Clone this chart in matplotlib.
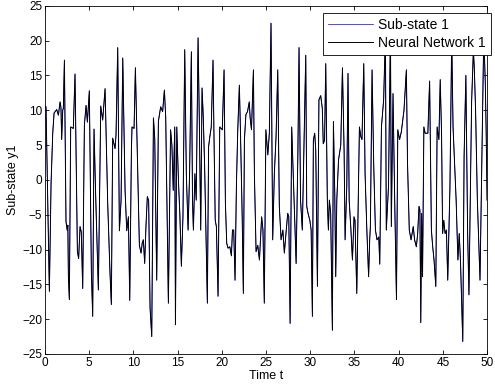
import matplotlib
matplotlib.use("Agg")
import matplotlib.pyplot as plt
import numpy as np

# turning points (time, sub-state y1)
time_t = [
    0.0, 0.11, 0.49, 0.68, 0.87, 1.02, 1.32, 1.51, 1.70, 1.80, 1.88, 2.0, 2.07, 2.19,
    2.37, 2.50, 2.58, 2.64, 2.75, 2.90, 3.20, 3.39, 3.66, 3.80, 3.96, 4.10, 4.26,
    4.45, 4.64, 4.79, 5.01, 5.24, 5.39, 5.54, 5.73, 6.03, 6.30, 6.52, 6.79, 7.09,
    7.35, 7.50, 7.65, 7.92, 8.03, 8.22, 8.41, 8.60, 8.79, 9.05, 9.24, 9.43, 9.58,
    9.77, 9.84, 10.07, 10.22, 10.44, 10.67, 10.86, 11.0, 11.12, 11.27, 11.42, 11.57,
    11.72, 11.88, 12.07, 12.26, 12.41, 12.63, 12.82, 13.08, 13.3, 13.5, 13.65, 13.8,
    13.95, 14.2, 14.35, 14.5, 14.67, 14.75, 14.9, 15.1, 15.25, 15.42, 15.6, 15.8,
    15.98, 16.18, 16.35, 16.55, 16.68, 16.78, 16.95, 17.1, 17.31, 17.45, 17.61,
    17.76, 17.9, 18.05, 18.36, 18.5, 18.64, 18.8, 19.0, 19.1, 19.25, 19.38, 19.57,
    19.76, 20.05, 20.25, 20.4, 20.55, 20.7, 20.9, 21.08, 21.2, 21.34, 21.49, 21.65,
    21.8, 21.98, 22.1, 22.3, 22.43, 22.55, 22.72, 22.9, 23.1, 23.2, 23.35, 23.57,
    23.68, 23.87, 24.06, 24.25, 24.5, 24.65, 24.8, 24.98, 25.2, 25.37, 25.56, 25.75,
    25.94, 26.13, 26.32, 26.5, 26.7, 26.9, 27.07, 27.25, 27.45, 27.57, 27.72, 27.9,
    28.1, 28.28, 28.4, 28.6, 28.73, 28.9, 29.1, 29.3, 29.49, 29.6, 29.75, 29.95,
    30.1, 30.24, 30.35, 30.5, 30.62, 30.81, 30.98, 31.18, 31.36, 31.47, 31.62,
    31.75, 31.93, 32.05, 32.16, 32.31, 32.5, 32.62, 32.77, 32.88, 33.0, 33.2, 33.45,
    33.64, 33.83, 33.94, 34.13, 34.27, 34.4, 34.6, 34.77, 34.95, 35.06, 35.26, 35.4,
    35.56, 35.72, 35.85, 36.05, 36.2, 36.4, 36.6, 36.72, 36.8, 36.99, 37.18, 37.37,
    37.55, 37.75, 37.86, 38.05, 38.3, 38.5, 38.6, 38.85, 39.07, 39.17, 39.36, 39.55,
    39.75, 39.9, 40.1, 40.3, 40.6, 40.87, 41.0, 41.2, 41.4, 41.65, 41.8, 42.0, 42.15,
    42.3, 42.4, 42.5, 42.6, 42.7, 42.85, 43.0, 43.3, 43.5, 43.7, 43.85, 44.0, 44.2,
    44.35, 44.55, 44.7, 44.85, 44.97, 45.1, 45.25, 45.4, 45.55, 45.8, 46.0, 46.15,
    46.3, 46.5, 46.7, 46.85, 47.0, 47.25, 47.4, 47.6, 47.8, 47.95, 48.1, 48.25,
    48.45, 48.55, 48.7, 48.9, 49.2, 49.35, 49.6, 49.7, 49.8, 49.9, 50.0,
]
sub_state_y1 = [
    10.5, 10.5, -16.0, -0.5, 6.7, 9.6, 10.1, 9.3, 11.2, 10.4, 5.8, 10.0, 10.3, 17.2,
    -6.0, -7.2, -6.5, -13.9, -17.2, 7.6, 7.4, 15.2, -10.3, -11.3, -6.7, -7.5, -15.6,
    7.9, 10.7, 8.3, 12.8, -13.2, -19.6, 7.3, -2.4, -15.8, 10.6, 8.6, 13.1, -3.5,
    -13.4, -17.9, 6.0, 4.5, 6.5, 19.0, -7.3, -2.9, 17.5, -1.4, -7.3, -5.3, -17.3,
    4.5, 7.6, 7.4, 16.1, 3.3, -9.4, -10.5, -9.0, -8.6, -12.0, -6.5, -2.4,
    -3.0, -18.4, -22.5, 8.9, 5.9, -14.4, 8.4, 10.5, 9.8, 12.9, 9.0, -4.8,
    -17.7, 7.2, 5.0, -1.5, 7.6, -20.8, 7.6, -0.5, -5.0, -12.4, -5.3, 18.7,
    0.9, -7.2, 0.9, 18.4, -3.0, -7.2, 0.9, -2.9, 20.4, 8.6, -7.2,
    13.2, 8.9, 2.0, -17.7, 4.8, 6.2, 7.6, 17.2, 7.1, -5.8, -6.7, -16.7,
    7.6, 7.2, 15.8, -3.3, -9.1, -9.8, -9.6, -10.9, -7.2, -7.2, -14.4, -0.5,
    7.2, 13.6, 7.2, -5.3, -16.3, 5.7, 9.4, 9.8, 11.2, 8.9, 7.2, 15.8,
    0.9, -10.3, -9.4, -11.5, -5.3, -7.2, -17.7, 7.2, 3.6, 6.7, 22.5, -8.6,
    1.0, 6.2, 15.8, -3.8, -8.6, -7.2, -10.5, -7.7, -4.8, -5.3, -20.6, 7.6,
    -0.2, -7.7, -12.0, 3.9, 19.0, -2.9, -7.2, 5.7, 17.9, -3.8, -4.8, -5.8,
    -7.2, -19.6, 5.7, 6.7, 4.3, -15.3, 11.5, 12.1, 10.3, 5.2, 5.7,
    16.7, -2.9, -7.2, -2.9, -4.8, -21.6, 8.4, -1.9, -13.9, -2.9, 2.9, 5.0,
    16.1, 4.0, -8.6, -0.9, 15.3, -2.9, -7.2, -11.5, -5.3, -5.8, -16.3, -4.8,
    7.6, 6.2, 5.8, 16.7, 0.9, -7.2, -13.9, -8.6, -6.7, 15.8, 2.0, -7.2,
    -8.6, -8.2, -12.1, 7.6, 11.5, 21.0, -7.2, -0.9, 21.5, -6.7, 12.4, -2.9,
    -17.2, 7.2, 5.8, 6.9, 10.0, 15.8, 2.4, -7.2, -8.6, -6.7, -8.6, -9.6, -7.7,
    -3.8, -4.3, -20.5, -4.8, -13.9, 7.6, 6.7, 6.7, 14.2, -7.2, -9.6, -11.5, -15.3,
    7.6, 5.8, 14.4, 6.7, -7.7, -5.8, -7.7, -7.2, -14.4, -1.0, 20.5, 7.6,
    3.0, -2.9, -11.5, -7.7, -12.0, -23.2, 3.4, 15.0, -7.7, -16.5, -2.4, 11.2,
    18.6, 16.2, 10.0, -2.9, -14.4, -1.9, 18.7, 17.9, 13.9, 6.7, -2.9,
]
# the network output tracks the sub-state so closely that only one trace shows
nn_y1 = list(sub_state_y1)

x_ticks = [0, 5, 10, 15, 20, 25, 30, 35, 40, 45, 50]
y_ticks = [-25, -20, -15, -10, -5, 0, 5, 10, 15, 20, 25]

plt.rcParams['font.family'] = ['Liberation Sans', 'DejaVu Sans']
plt.rcParams['font.size'] = 8

fig = plt.figure(figsize=(4.95, 3.89), dpi=100)
ax = fig.add_axes([0.091, 0.09, 0.893, 0.895])

ax.plot(time_t, sub_state_y1, color='blue', lw=0.5, label='Sub-state 1')
ax.plot(time_t, nn_y1, color='black', lw=0.7, label='Neural Network 1')

ax.set_xlim(0, 50)
ax.set_ylim(-25, 25)
ax.set_xticks(x_ticks)
ax.set_yticks(y_ticks)
ax.tick_params(direction='in', top=True, right=True, length=3, width=0.6, pad=2,
               labelsize=8.5)
for s in ax.spines.values():
    s.set_linewidth(0.6)

ax.set_xlabel('Time t', labelpad=1, fontsize=9)
ax.set_ylabel('Sub-state y1', labelpad=2, fontsize=9)

leg = ax.legend(loc='upper right', bbox_to_anchor=(1.008, 0.978), fancybox=False,
                edgecolor='black', framealpha=1, handlelength=3.2, borderpad=0.35,
                labelspacing=0.25, handletextpad=0.4, borderaxespad=0, fontsize=10)
leg.get_frame().set_linewidth(0.6)

fig.savefig('out.png', dpi=100)
